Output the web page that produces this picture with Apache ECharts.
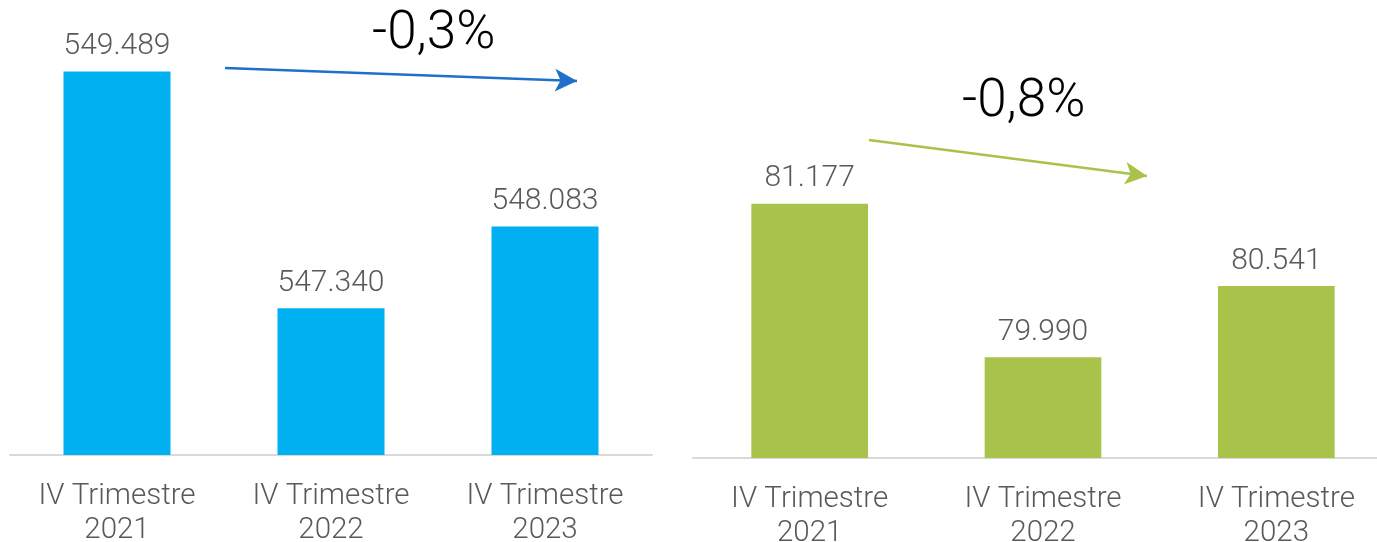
<!DOCTYPE html>
<html>
<head>
<meta charset="utf-8">
<script src="https://cdn.jsdelivr.net/npm/echarts@6/dist/echarts.min.js"></script>
<style>
  html, body { margin: 0; padding: 0; background: #fff; }
  #chart { width: 1377px; height: 542px; }
</style>
</head>
<body>
<div id="chart"></div>
<script>
// 类别与数值
const categories = ['IV Trimestre\n2021', 'IV Trimestre\n2022', 'IV Trimestre\n2023']
const leftValues = [549489, 547340, 548083]
const rightValues = [81177, 79990, 80541]
const leftChange = '-0,3%'
const rightChange = '-0,8%'

const fontFamily = 'Roboto, "Noto Sans", sans-serif'
const labelColor = '#595959'
const blue = '#00B0F0'
const green = '#A9C34A'

// 千位分隔用点号
const fmt = v => String(v).replace(/\B(?=(\d{3})+(?!\d))/g, '.')

const myChart = echarts.init(document.getElementById('chart'), null, { renderer: 'canvas' })

function xAxisOf(gridIndex) {
  return {
    type: 'category',
    gridIndex,
    data: categories,
    axisLine: { lineStyle: { color: '#D9D9D9', width: 2 } },
    axisTick: { show: false },
    axisLabel: {
      interval: 0,
      hideOverlap: false,
      color: labelColor,
      fontFamily,
      fontWeight: 300,
      fontSize: 29.5,
      lineHeight: 34,
      margin: 25
    }
  }
}

function barSeries(idx, data, color) {
  return {
    type: 'bar',
    xAxisIndex: idx,
    yAxisIndex: idx,
    data,
    barWidth: '50%',
    itemStyle: { color },
    label: {
      show: true,
      position: 'top',
      distance: 10,
      color: labelColor,
      fontFamily,
      fontWeight: 300,
      fontSize: 30,
      formatter: p => fmt(p.value)
    }
  }
}

const option = {
  backgroundColor: '#fff',
  animation: false,
  grid: [
    { left: 10, top: 0, width: 642, height: 455, outerBoundsMode: 'none' },
    { left: 693, top: 0, width: 700, height: 458, outerBoundsMode: 'none' }
  ],
  xAxis: [xAxisOf(0), xAxisOf(1)],
  yAxis: [
    { type: 'value', gridIndex: 0, min: 546010, max: 550137, show: false },
    { type: 'value', gridIndex: 1, min: 79210, max: 82755, show: false }
  ],
  series: [
    barSeries(0, leftValues, blue),
    barSeries(1, rightValues, green),
    // 趋势箭头（屏幕坐标）
    {
      type: 'line', xAxisIndex: 0, yAxisIndex: 0, data: [],
      markLine: {
        silent: true,
        symbol: ['none', 'arrow'],
        symbolSize: [17, 22],
        label: { show: false },
        lineStyle: { color: '#1F70C8', width: 2.5, type: 'solid' },
        data: [[{ x: 225, y: 68 }, { x: 577, y: 81 }]]
      }
    },
    {
      type: 'line', xAxisIndex: 1, yAxisIndex: 1, data: [],
      markLine: {
        silent: true,
        symbol: ['none', 'arrow'],
        symbolSize: [17, 22],
        label: { show: false },
        lineStyle: { color: '#A9C34A', width: 2.5, type: 'solid' },
        data: [[{ x: 869, y: 140 }, { x: 1147, y: 176 }]]
      }
    }
  ],
  graphic: [
    {
      type: 'text', left: 372, top: 8,
      style: { text: leftChange, fill: '#000', font: '300 53px ' + fontFamily }
    },
    {
      type: 'text', left: 962, top: 76,
      style: { text: rightChange, fill: '#000', font: '300 53px ' + fontFamily }
    }
  ]
}

myChart.setOption(option)
</script>
</body>
</html>
